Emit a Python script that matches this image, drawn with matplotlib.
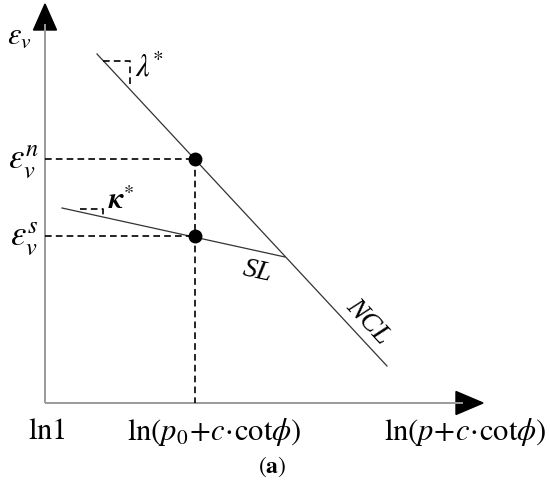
import matplotlib
matplotlib.use("Agg")
import matplotlib.pyplot as plt
from matplotlib.patches import Polygon

plt.rcParams['mathtext.fontset'] = 'stix'
plt.rcParams['font.family'] = ['Liberation Serif', 'DejaVu Serif']

# Schematic geometry (drawing units = canvas units)
origin = (45, 404)
y_axis_top = 5
x_axis_right = 483
ncl_x = [97, 387]
ncl_y = [55, 367]
sl_x = [62, 285]
sl_y = [209, 258]
state_x = [195, 195]
state_y = [160, 237]
lam_tri_x = [103, 130, 130]
lam_tri_y = [62, 62, 89]
kap_tri_x = [80, 103, 103]
kap_tri_y = [210, 210, 218]
x_tick_labels = [r'$\mathrm{ln1}$', r'$\mathrm{ln}(p_0\!+\!c\!\cdot\!\mathrm{cot}\phi)$',
                 r'$\mathrm{ln}(p\!+\!c\!\cdot\!\mathrm{cot}\phi)$']
x_tick_pos = [47, 214, 465]
y_tick_labels = [r'$\varepsilon_v^n$', r'$\varepsilon_v^s$']

fig = plt.figure(figsize=(5.5, 4.85), dpi=100)
ax = fig.add_axes([0, 0, 1, 1])
ax.set_xlim(0, 550)
ax.set_ylim(485, 0)
ax.axis('off')

ox, oy = origin
axis_col = '#9a9a9a'
# axes
ax.plot([ox, ox], [oy, y_axis_top + 20], color=axis_col, lw=1.4, solid_capstyle='butt')
ax.plot([ox, x_axis_right - 20], [oy, oy], color=axis_col, lw=1.4, solid_capstyle='butt')
ax.add_patch(Polygon([[ox - 11.5, y_axis_top + 26], [ox + 11.5, y_axis_top + 26], [ox, y_axis_top]],
                     closed=True, color='black'))
ax.add_patch(Polygon([[x_axis_right - 27, oy - 11.5], [x_axis_right - 27, oy + 11.5], [x_axis_right, oy]],
                     closed=True, color='black'))

# lines
ax.plot(ncl_x, ncl_y, color='#333333', lw=0.9)
ax.plot(sl_x, sl_y, color='#333333', lw=0.9)

dash = dict(color='black', lw=1.2, linestyle=(0, (4, 2.5)))
ax.plot(lam_tri_x, lam_tri_y, **dash)
ax.plot(kap_tri_x, kap_tri_y, **dash)
for sx, sy in zip(state_x, state_y):
    ax.plot([ox, sx], [sy, sy], **dash)
ax.plot([state_x[0], state_x[0]], [state_y[0], oy], **dash)
ax.plot(state_x, state_y, 'o', color='black', ms=9, zorder=5)

# labels
ax.text(19, 36, r'$\varepsilon_v$', fontsize=22, ha='center', va='center')
for lab, yy in zip(y_tick_labels, state_y):
    ax.text(24, yy + 2, lab, fontsize=25, ha='center', va='center')
ax.text(150, 69, r'$\lambda^{*}$', fontsize=22, ha='center', va='center')
ax.text(121, 201, r'$\boldsymbol{\kappa}^{*}$', fontsize=21, ha='center', va='center')
ax.text(257, 272, 'SL', fontsize=20, style='italic', ha='center', va='center', rotation=-12)
ax.text(368, 322, 'NCL', fontsize=20, style='italic', ha='center', va='center', rotation=-47)
for lab, xx in zip(x_tick_labels, x_tick_pos):
    ax.text(xx, 432, lab, fontsize=22, ha='center', va='center')
ax.text(272, 467, r'$(\mathbf{a})$', fontsize=17, ha='center', va='center')

fig.savefig('out.png', dpi=100)
